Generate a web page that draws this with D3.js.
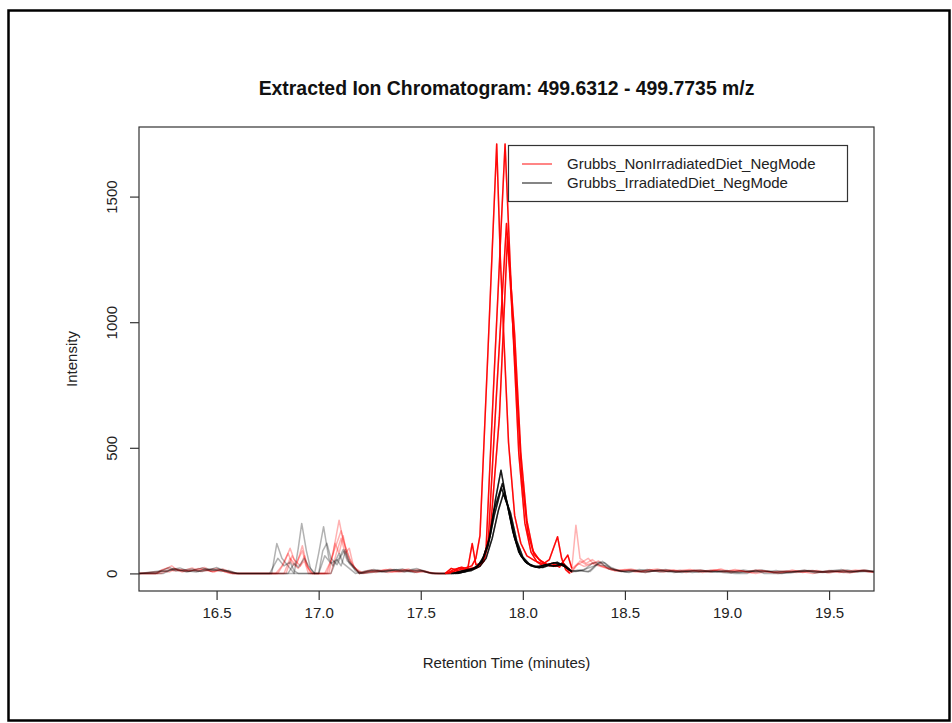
<!DOCTYPE html>
<html>
<head>
<meta charset="utf-8">
<script src="https://cdn.jsdelivr.net/npm/d3@7"></script>
<style>
  html, body { margin: 0; padding: 0; background: #fff; }
  svg { display: block; font-family: "Liberation Sans", Arial, sans-serif; }
</style>
</head>
<body>
<svg id="chart" width="952" height="723"></svg>
<script>
// ---------------- data ----------------
const title = "Extracted Ion Chromatogram: 499.6312 - 499.7735 m/z";
const xLabel = "Retention Time (minutes)";
const yLabel = "Intensity";
const xTicks = [16.5, 17.0, 17.5, 18.0, 18.5, 19.0, 19.5];
const yTicks = [0, 500, 1000, 1500];
const groupNames = ["Grubbs_NonIrradiatedDiet_NegMode", "Grubbs_IrradiatedDiet_NegMode"];
const groupColors = ["#ff0000", "#000000"];
const peakWindow = [17.6, 18.24];

// NonIrradiated samples: [retention time (min), intensity]
const nonIrrA = [[16.12,0],[16.21,0],[16.23,14],[16.26,22],[16.29,10],[16.33,16],[16.37,8],[16.41,20],[16.45,12],[16.49,6],[16.53,18],[16.56,8],[16.6,0],
[16.8,0],[16.83,40],[16.86,100],[16.88,55],[16.91,30],[16.93,70],[16.95,20],[16.97,0],
[17.04,0],[17.07,80],[17.10,212],[17.12,130],[17.15,60],[17.18,20],[17.2,0],
[17.24,10],[17.28,4],[17.32,14],[17.36,6],[17.41,16],[17.46,8],[17.5,12],[17.55,0],
[17.62,0],[17.65,20],[17.68,12],[17.71,20],[17.75,30],[17.77,60],[17.79,150],[17.83,900],[17.872,1709],[17.89,1250],[17.93,520],[17.96,230],[17.99,120],[18.02,70],[18.06,50],[18.1,38],[18.13,55],[18.17,146],[18.19,60],[18.21,15],[18.23,0],
[18.26,30],[18.29,45],[18.32,60],[18.35,35],[18.39,25],[18.43,15],[18.48,8],[18.52,14],[18.57,6],[18.62,16],[18.67,10],[18.72,15],[18.77,8],[18.82,12],[18.87,14],[18.92,6],[18.97,18],[19.01,8],[19.06,12],[19.12,4],[19.18,10],[19.25,0],[19.32,14],[19.37,4],[19.44,12],[19.5,2],[19.57,14],[19.62,6],[19.68,12],[19.72,8]];

const nonIrrB = [[16.12,0],[16.22,8],[16.25,18],[16.28,30],[16.31,12],[16.35,10],[16.4,14],[16.44,24],[16.47,10],[16.52,12],[16.57,0],
[16.83,0],[16.86,60],[16.89,30],[16.92,110],[16.94,40],[16.96,0],
[17.05,0],[17.08,120],[17.1,80],[17.12,150],[17.14,60],[17.17,25],[17.21,5],
[17.26,14],[17.31,8],[17.35,18],[17.4,6],[17.44,10],[17.49,16],[17.53,4],[17.58,0],
[17.63,0],[17.66,15],[17.7,25],[17.73,18],[17.752,119],[17.77,35],[17.8,40],[17.82,100],[17.86,800],[17.913,1709],[17.95,1000],[17.98,480],[18.01,200],[18.04,85],[18.07,45],[18.1,30],[18.14,40],[18.18,25],[18.22,73],[18.24,20],
[18.26,192],[18.28,60],[18.31,40],[18.34,55],[18.38,30],[18.42,20],[18.47,12],[18.53,18],[18.58,8],[18.63,12],[18.69,6],[18.74,14],[18.8,4],[18.85,12],[18.91,8],[18.96,16],[19.02,4],[19.07,10],[19.14,0],[19.2,8],[19.28,4],[19.35,10],[19.42,0],[19.5,12],[19.55,4],[19.63,14],[19.7,6],[19.72,8]];

const nonIrrC = [[16.12,0],[16.2,0],[16.24,10],[16.27,6],[16.3,18],[16.34,12],[16.38,22],[16.42,8],[16.46,14],[16.5,20],[16.54,6],[16.58,0],
[16.84,0],[16.87,70],[16.89,40],[16.92,90],[16.94,30],[16.97,0],
[17.03,0],[17.06,50],[17.08,100],[17.11,170],[17.13,110],[17.16,40],[17.19,10],[17.22,0],
[17.27,8],[17.33,16],[17.38,6],[17.43,14],[17.48,4],[17.52,10],[17.57,0],
[17.64,0],[17.67,10],[17.7,8],[17.74,20],[17.78,25],[17.81,50],[17.83,120],[17.87,700],[17.92,1393],[17.96,950],[17.99,480],[18.02,210],[18.05,90],[18.08,55],[18.12,35],[18.16,28],[18.2,40],[18.23,10],
[18.27,40],[18.3,28],[18.33,35],[18.37,50],[18.41,22],[18.45,10],[18.5,16],[18.55,6],[18.6,12],[18.66,18],[18.71,8],[18.76,12],[18.82,16],[18.88,4],[18.94,14],[18.99,8],[19.04,16],[19.1,6],[19.16,12],[19.23,4],[19.3,8],[19.38,12],[19.46,4],[19.52,10],[19.6,2],[19.66,12],[19.72,4]];

const nonIrrD = [[16.12,0],[16.23,0],[16.26,12],[16.29,20],[16.33,6],[16.37,14],[16.4,10],[16.44,18],[16.48,6],[16.51,14],[16.55,10],[16.59,0],
[16.79,0],[16.82,30],[16.85,80],[16.87,40],[16.9,20],[16.93,50],[16.95,0],
[17.06,0],[17.09,90],[17.11,140],[17.13,80],[17.15,100],[17.17,30],[17.2,0],
[17.25,6],[17.29,12],[17.34,4],[17.39,10],[17.44,18],[17.47,6],[17.52,8],[17.56,0],
[17.62,0],[17.66,8],[17.69,22],[17.72,12],[17.76,18],[17.79,30],[17.81,60],[17.84,160],[17.885,620],[17.925,1340],[17.965,800],[17.995,380],[18.025,160],[18.055,75],[18.09,48],[18.13,30],[18.17,35],[18.21,28],[18.24,5],
[18.28,50],[18.31,35],[18.35,42],[18.39,28],[18.44,18],[18.49,10],[18.54,14],[18.6,4],[18.65,12],[18.7,14],[18.75,6],[18.81,12],[18.86,8],[18.93,14],[18.98,6],[19.03,12],[19.09,8],[19.15,14],[19.22,6],[19.28,10],[19.34,4],[19.41,12],[19.48,6],[19.54,10],[19.61,8],[19.67,14],[19.72,6]];

// Irradiated samples
const irrA = [[16.12,0],[16.21,6],[16.24,14],[16.27,24],[16.3,10],[16.34,14],[16.38,18],[16.41,8],[16.45,20],[16.49,12],[16.53,16],[16.57,6],[16.61,0],
[16.77,0],[16.795,119],[16.82,60],[16.84,40],[16.86,20],[16.88,0],
[16.98,0],[17.0,80],[17.024,186],[17.05,60],[17.07,30],[17.1,80],[17.12,40],[17.15,20],[17.18,0],
[17.23,10],[17.27,16],[17.31,6],[17.36,12],[17.41,18],[17.45,8],[17.5,14],[17.54,4],[17.59,0],
[17.68,0],[17.72,8],[17.75,18],[17.78,30],[17.81,70],[17.84,150],[17.865,290],[17.893,411],[17.92,290],[17.95,170],[17.98,85],[18.01,48],[18.04,30],[18.08,22],[18.11,30],[18.15,42],[18.18,38],[18.21,25],[18.24,8],
[18.27,14],[18.3,10],[18.33,8],[18.37,40],[18.4,42],[18.43,20],[18.47,10],[18.52,4],[18.57,16],[18.62,8],[18.68,12],[18.74,4],[18.8,10],[18.86,6],[18.92,12],[18.98,4],[19.04,0],[19.1,0],[19.14,14],[19.18,0],[19.26,0],[19.32,6],[19.38,14],[19.43,2],[19.5,10],[19.56,16],[19.6,4],[19.66,10],[19.72,6]];

const irrB = [[16.12,0],[16.22,10],[16.26,8],[16.29,20],[16.32,12],[16.36,8],[16.4,16],[16.43,22],[16.47,10],[16.51,18],[16.55,8],[16.6,0],
[16.88,0],[16.9,100],[16.917,199],[16.94,90],[16.96,20],[16.98,0],
[17.06,0],[17.08,40],[17.1,60],[17.12,95],[17.14,50],[17.17,30],[17.2,0],
[17.26,12],[17.3,6],[17.35,14],[17.39,8],[17.43,12],[17.48,20],[17.52,6],[17.57,0],
[17.66,0],[17.7,10],[17.74,14],[17.77,22],[17.8,50],[17.83,120],[17.86,255],[17.90,358],[17.93,260],[17.96,140],[17.99,70],[18.02,40],[18.06,26],[18.1,24],[18.13,32],[18.17,30],[18.2,36],[18.23,15],
[18.26,8],[18.3,14],[18.34,40],[18.38,45],[18.42,18],[18.46,12],[18.51,6],[18.56,10],[18.61,16],[18.67,6],[18.72,10],[18.78,4],[18.84,12],[18.9,6],[18.96,10],[19.02,4],[19.08,14],[19.14,6],[19.2,10],[19.27,0],[19.33,8],[19.4,12],[19.47,4],[19.53,8],[19.59,14],[19.64,6],[19.72,10]];

const irrC = [[16.12,0],[16.24,0],[16.27,12],[16.31,16],[16.35,6],[16.39,12],[16.43,8],[16.47,16],[16.5,24],[16.54,10],[16.58,0],
[16.85,0],[16.88,40],[16.9,25],[16.93,60],[16.95,30],[16.98,0],
[17.0,0],[17.03,70],[17.06,40],[17.09,55],[17.11,30],[17.13,85],[17.15,40],[17.18,15],[17.21,0],
[17.26,4],[17.31,10],[17.37,16],[17.42,6],[17.46,14],[17.51,8],[17.56,0],
[17.67,0],[17.71,6],[17.75,12],[17.79,28],[17.82,60],[17.85,140],[17.88,250],[17.905,318],[17.94,240],[17.97,130],[18.0,65],[18.03,38],[18.07,25],[18.11,35],[18.15,28],[18.19,40],[18.22,20],[18.24,6],
[18.28,12],[18.32,6],[18.36,35],[18.41,30],[18.45,14],[18.5,8],[18.55,12],[18.6,4],[18.66,14],[18.71,8],[18.77,12],[18.83,4],[18.89,10],[18.95,6],[19.0,12],[19.06,4],[19.12,10],[19.19,6],[19.24,12],[19.31,2],[19.37,10],[19.44,6],[19.51,12],[19.57,4],[19.63,10],[19.69,12],[19.72,6]];

const irrD = [[16.12,0],[16.2,0],[16.23,8],[16.28,16],[16.32,22],[16.36,10],[16.4,6],[16.44,14],[16.48,18],[16.52,8],[16.56,12],[16.6,0],
[16.76,0],[16.8,60],[16.83,30],[16.86,45],[16.88,10],[16.9,0],
[17.0,0],[17.02,90],[17.04,120],[17.06,60],[17.09,35],[17.11,70],[17.13,95],[17.15,50],[17.18,10],[17.2,0],
[17.24,8],[17.29,14],[17.33,6],[17.38,16],[17.42,10],[17.47,4],[17.51,12],[17.55,0],
[17.65,0],[17.69,6],[17.73,16],[17.76,20],[17.8,45],[17.83,110],[17.86,230],[17.895,340],[17.925,270],[17.955,160],[17.985,80],[18.015,45],[18.05,28],[18.09,30],[18.13,38],[18.17,44],[18.2,30],[18.23,12],
[18.27,10],[18.31,18],[18.35,30],[18.39,48],[18.43,25],[18.48,8],[18.53,14],[18.58,6],[18.64,10],[18.7,16],[18.75,6],[18.81,10],[18.87,14],[18.93,6],[18.99,10],[19.05,4],[19.11,8],[19.17,14],[19.23,4],[19.29,10],[19.36,6],[19.42,12],[19.49,4],[19.55,10],[19.61,6],[19.67,14],[19.72,8]];

const nonIrrSamples = [nonIrrA, nonIrrB, nonIrrC, nonIrrD];
const irrSamples = [irrA, irrB, irrC, irrD];

// ---------------- drawing ----------------
const svg = d3.select("#chart");
const W = 952, H = 723;
const plot = { left: 139, right: 874, top: 127, bottom: 591 };

svg.append("rect").attr("width", W).attr("height", H).attr("fill", "#fff");
// outer frame
svg.append("rect")
  .attr("x", 8.5).attr("y", 10.5).attr("width", 941).attr("height", 710)
  .attr("fill", "none").attr("stroke", "#000").attr("stroke-width", 2.5);

const x = d3.scaleLinear().domain([16.12, 19.72]).range([plot.left, plot.right]);
const y = d3.scaleLinear().domain([-70, 1777]).range([plot.bottom, plot.top]);

svg.append("defs").append("clipPath").attr("id", "clip")
  .append("rect").attr("x", plot.left).attr("y", plot.top)
  .attr("width", plot.right - plot.left).attr("height", plot.bottom - plot.top);

const line = d3.line().x(d => x(d[0])).y(d => y(d[1]));
const g = svg.append("g").attr("clip-path", "url(#clip)");

const groups = [
  { samples: nonIrrSamples, color: groupColors[0] },
  { samples: irrSamples, color: groupColors[1] }
];
// faint full traces
groups.forEach(gr => {
  gr.samples.forEach(s => {
    g.append("path").datum(s).attr("d", line)
      .attr("fill", "none").attr("stroke", gr.color)
      .attr("stroke-opacity", 0.3).attr("stroke-width", 1.5)
      .attr("stroke-linejoin", "round");
  });
});
// opaque peak window
groups.forEach(gr => {
  gr.samples.forEach(s => {
    const seg = s.filter(d => d[0] >= peakWindow[0] && d[0] <= peakWindow[1]);
    g.append("path").datum(seg).attr("d", line)
      .attr("fill", "none").attr("stroke", gr.color)
      .attr("stroke-opacity", gr.color === "#000000" ? 0.85 : 0.95)
      .attr("stroke-width", 1.5).attr("stroke-linejoin", "round");
  });
});

// plot box
svg.append("rect")
  .attr("x", plot.left).attr("y", plot.top)
  .attr("width", plot.right - plot.left).attr("height", plot.bottom - plot.top)
  .attr("fill", "none").attr("stroke", "#333").attr("stroke-width", 1.2);

// axes
const xAxis = svg.append("g").attr("transform", `translate(0,${plot.bottom})`)
  .call(d3.axisBottom(x).tickValues(xTicks).tickFormat(d3.format(".1f")).tickSize(9).tickPadding(7).tickSizeOuter(0));
xAxis.select(".domain").remove();
xAxis.selectAll("line").attr("stroke", "#333").attr("stroke-width", 1.2);
xAxis.selectAll("text").attr("font-size", 15).attr("fill", "#222")
  .attr("font-family", "Liberation Sans, Arial, sans-serif");

const yAxis = svg.append("g").attr("transform", `translate(${plot.left},0)`)
  .call(d3.axisLeft(y).tickValues(yTicks).tickFormat(d3.format("d")).tickSize(9).tickSizeOuter(0));
yAxis.select(".domain").remove();
yAxis.selectAll("line").attr("stroke", "#333").attr("stroke-width", 1.2);
yAxis.selectAll("text")
  .attr("font-size", 15).attr("fill", "#222")
  .attr("font-family", "Liberation Sans, Arial, sans-serif")
  .attr("x", null).attr("dy", null)
  .attr("text-anchor", "middle")
  .attr("transform", "translate(-22,0) rotate(-90)");

// title and axis labels
svg.append("text").attr("x", (plot.left + plot.right) / 2).attr("y", 95)
  .attr("text-anchor", "middle").attr("font-weight", "bold").attr("font-size", 19.4)
  .attr("fill", "#111").text(title);
svg.append("text").attr("x", (plot.left + plot.right) / 2).attr("y", 668)
  .attr("text-anchor", "middle").attr("font-size", 15).attr("fill", "#222").text(xLabel);
svg.append("text").attr("transform", `translate(77,${(plot.top + plot.bottom) / 2}) rotate(-90)`)
  .attr("text-anchor", "middle").attr("font-size", 15).attr("fill", "#222").text(yLabel);

// legend
const lg = svg.append("g");
lg.append("rect").attr("x", 508.5).attr("y", 145.5).attr("width", 339).attr("height", 56)
  .attr("fill", "#fff").attr("stroke", "#333").attr("stroke-width", 1.2);
groupNames.forEach((name, i) => {
  const yy = 164 + i * 19;
  lg.append("line").attr("x1", 522).attr("x2", 552).attr("y1", yy).attr("y2", yy)
    .attr("stroke", groupColors[i]).attr("stroke-opacity", 0.6).attr("stroke-width", 1.6);
  lg.append("text").attr("x", 567).attr("y", yy).attr("dy", "0.35em")
    .attr("font-size", 15).attr("fill", "#222").text(name);
});
</script>
</body>
</html>
